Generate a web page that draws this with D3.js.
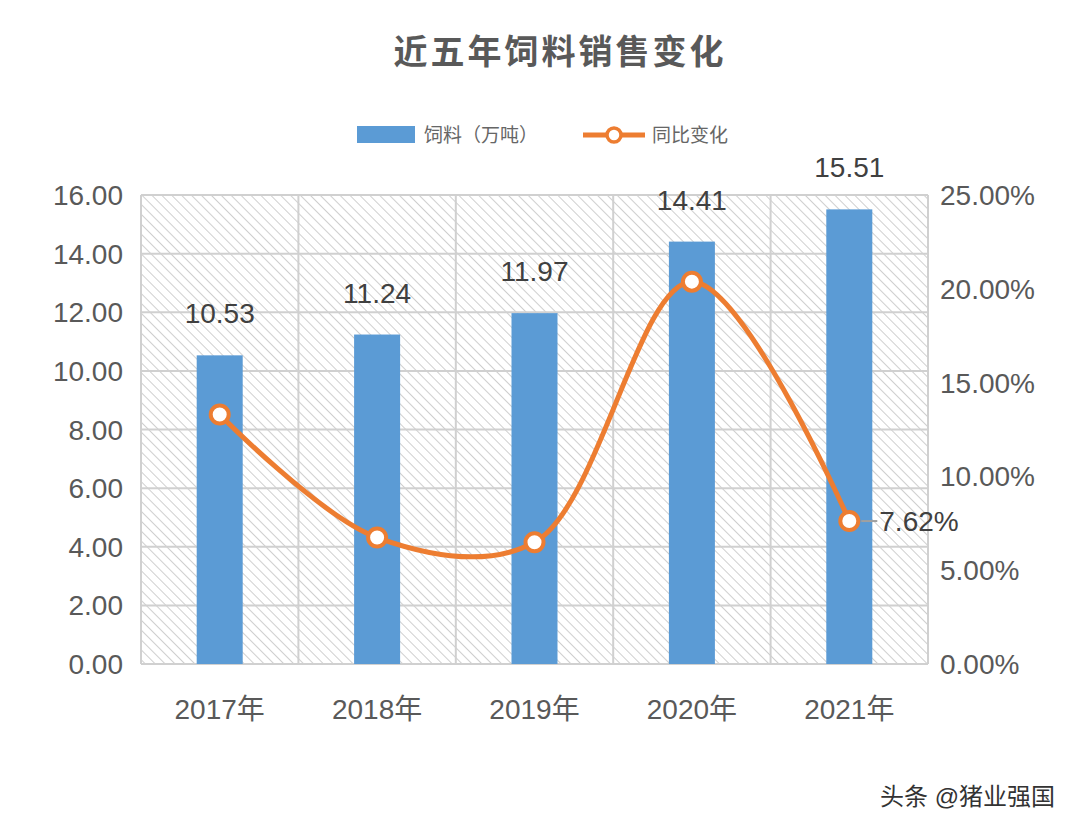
<!DOCTYPE html>
<html><head><meta charset="utf-8">
<script src="https://cdn.jsdelivr.net/npm/d3@7"></script>
<style>body{margin:0;background:#fff;font-family:"Liberation Sans","Noto Sans CJK SC",sans-serif}</style>
</head><body><div id="chart"></div>
<script>
// 数据
const years = ['2017年', '2018年', '2019年', '2020年', '2021年'];
const feed = [10.53, 11.24, 11.97, 14.41, 15.51];
const yoy = [13.3, 6.74, 6.49, 20.38, 7.62];
const leftTicks = [0, 2, 4, 6, 8, 10, 12, 14, 16];
const rightTicks = [0, 5, 10, 15, 20, 25];

const W = 1080, H = 831;
const m = { top: 195, right: 152, bottom: 167, left: 141 };
const w = W - m.left - m.right, h = H - m.top - m.bottom;

const svg = d3.select('#chart').append('svg').attr('width', W).attr('height', H);

// 斜线背景
const defs = svg.append('defs');
const pat = defs.append('pattern').attr('id', 'hatch').attr('patternUnits', 'userSpaceOnUse')
  .attr('width', 7).attr('height', 7).attr('patternTransform', 'rotate(-45)');
pat.append('line').attr('x1', 0).attr('y1', 0).attr('x2', 0).attr('y2', 7)
  .attr('stroke', '#b4b4b4').attr('stroke-width', 1.3);

svg.append('text').attr('x', 560).attr('y', 64).attr('text-anchor', 'middle')
  .attr('font-size', 34).attr('font-weight', 'bold').attr('fill', '#595959').attr('letter-spacing', 3)
  .text('近五年饲料销售变化');

// 图例
const lg = svg.append('g');
lg.append('rect').attr('x', 357).attr('y', 126).attr('width', 58).attr('height', 17).attr('fill', '#5b9bd5');
lg.append('text').attr('x', 424).attr('y', 142).attr('font-size', 19).attr('fill', '#666').text('饲料（万吨）');
lg.append('line').attr('x1', 583).attr('x2', 645).attr('y1', 135).attr('y2', 135).attr('stroke', '#ed7d31').attr('stroke-width', 5);
lg.append('circle').attr('cx', 614).attr('cy', 135).attr('r', 7).attr('fill', '#fff').attr('stroke', '#ed7d31').attr('stroke-width', 3.5);
lg.append('text').attr('x', 652).attr('y', 142).attr('font-size', 19).attr('fill', '#666').text('同比变化');

const g = svg.append('g').attr('transform', `translate(${m.left},${m.top})`);

const x = d3.scaleBand().domain(years).range([0, w]);
const y = d3.scaleLinear().domain([0, 16]).range([h, 0]);
const y2 = d3.scaleLinear().domain([0, 25]).range([h, 0]);

g.append('rect').attr('width', w).attr('height', h).attr('fill', 'url(#hatch)');

// 网格线
g.selectAll('.hg').data(leftTicks).enter().append('line')
  .attr('x1', 0).attr('x2', w).attr('y1', d => y(d)).attr('y2', d => y(d))
  .attr('stroke', '#d0d0d0').attr('stroke-width', 2);
g.selectAll('.vg').data(years.concat([null])).enter().append('line')
  .attr('x1', (d, i) => i * x.step()).attr('x2', (d, i) => i * x.step())
  .attr('y1', 0).attr('y2', h).attr('stroke', '#d0d0d0').attr('stroke-width', 2);

// 柱
const bw = 46;
g.selectAll('.bar').data(feed).enter().append('rect')
  .attr('x', (d, i) => x(years[i]) + x.bandwidth() / 2 - bw / 2)
  .attr('y', d => y(d)).attr('width', bw).attr('height', d => h - y(d)).attr('fill', '#5b9bd5');
g.selectAll('.bl').data(feed).enter().append('text')
  .attr('x', (d, i) => x(years[i]) + x.bandwidth() / 2).attr('y', d => y(d) - 32)
  .attr('text-anchor', 'middle').attr('font-size', 28).attr('fill', '#404040')
  .text(d => d.toFixed(2));

// 轴
g.selectAll('.lt').data(leftTicks).enter().append('text')
  .attr('x', -18).attr('y', d => y(d) + 10).attr('text-anchor', 'end')
  .attr('font-size', 28).attr('fill', '#595959').text(d => d.toFixed(2));
g.selectAll('.rt').data(rightTicks).enter().append('text')
  .attr('x', w + 12).attr('y', d => y2(d) + 10)
  .attr('font-size', 28).attr('fill', '#595959').text(d => d.toFixed(2) + '%');
g.selectAll('.xt').data(years).enter().append('text')
  .attr('x', d => x(d) + x.bandwidth() / 2).attr('y', h + 55).attr('text-anchor', 'middle')
  .attr('font-size', 28).attr('fill', '#595959').text(d => d);

// 折线
const px = (d, i) => x(years[i]) + x.bandwidth() / 2;
g.append('path').datum(yoy)
  .attr('d', d3.line().x(px).y(d => y2(d)).curve(d3.curveCatmullRom.alpha(0.5)))
  .attr('fill', 'none').attr('stroke', '#ed7d31').attr('stroke-width', 5);
g.selectAll('.pt').data(yoy).enter().append('circle')
  .attr('cx', px).attr('cy', d => y2(d)).attr('r', 9)
  .attr('fill', '#fff').attr('stroke', '#ed7d31').attr('stroke-width', 4);

// 最后一点标签
const li = yoy.length - 1;
g.append('line').attr('x1', px(0, li) + 12).attr('x2', px(0, li) + 28)
  .attr('y1', y2(yoy[li])).attr('y2', y2(yoy[li])).attr('stroke', '#a0a0a0').attr('stroke-width', 2);
g.append('text').attr('x', px(0, li) + 30).attr('y', y2(yoy[li]) + 10)
  .attr('font-size', 28).attr('fill', '#404040').text(yoy[li].toFixed(2) + '%');

svg.append('text').attr('x', 1055).attr('y', 805).attr('text-anchor', 'end')
  .attr('font-size', 24).attr('fill', '#333').text('头条 @猪业强国');
</script></body></html>
